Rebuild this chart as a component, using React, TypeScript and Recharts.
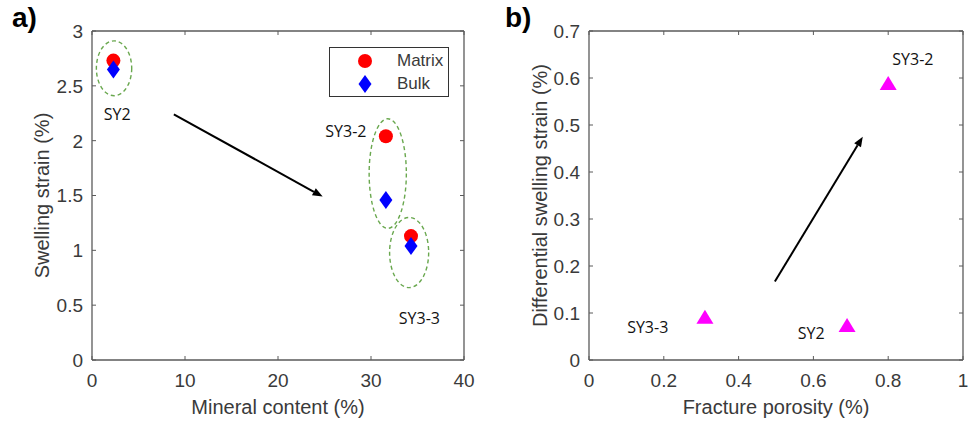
import React from 'react';
import { ScatterChart, Scatter, XAxis, YAxis, ReferenceLine, Legend } from 'recharts';

// ---- panel a) swelling strain vs mineral content ----
const SAMPLES_A = ['SY2', 'SY3-2', 'SY3-3'];
const MINERAL = [2.3, 31.6, 34.3];
const MATRIX = [2.73, 2.04, 1.13];
const BULK = [2.65, 1.46, 1.04];
const X_TICKS_A = [0, 10, 20, 30, 40];
const Y_TICKS_A = [0, 0.5, 1, 1.5, 2, 2.5, 3];
const LABEL_X_A = [2.7, 27.3, 35.2];
const LABEL_Y_A = [2.24, 2.08, 0.38];
const RING_X_A = [2.37, 31.8, 34.1];
const RING_Y_A = [2.66, 1.7, 0.98];
const RING_RX_A = [1.9, 2.0, 2.1];
const RING_RY_A = [0.25, 0.5, 0.32];
const ARROW_A = [{ x: 8.8, y: 2.24 }, { x: 24.8, y: 1.49 }];

// ---- panel b) differential swelling strain vs fracture porosity ----
const SAMPLES_B = ['SY2', 'SY3-2', 'SY3-3'];
const POROSITY = [0.69, 0.8, 0.31];
const DIFF = [0.07, 0.585, 0.088];
const X_TICKS_B = [0, 0.2, 0.4, 0.6, 0.8, 1];
const Y_TICKS_B = [0, 0.1, 0.2, 0.3, 0.4, 0.5, 0.6, 0.7];
const LABEL_X_B = [0.594, 0.866, 0.157];
const LABEL_Y_B = [0.057, 0.64, 0.07];
const ARROW_B = [{ x: 0.497, y: 0.167 }, { x: 0.732, y: 0.475 }];

const H = 423;
const AXIS_C = '#5a5a5a';
const TEXT_C = '#3a3a3a';
const TICK_FONT = '"Liberation Sans", Arial, sans-serif';
const NOTE_FONT = '"Open Sans", "Noto Sans", sans-serif';

const matrixData = MINERAL.map((x, i) => ({ x, y: MATRIX[i] }));
const bulkData = MINERAL.map((x, i) => ({ x, y: BULK[i] }));
const ringData = RING_X_A.map((x, i) => ({ x, y: RING_Y_A[i], rx: RING_RX_A[i], ry: RING_RY_A[i] }));
const labelsA = SAMPLES_A.map((name, i) => ({ x: LABEL_X_A[i], y: LABEL_Y_A[i], name }));
const triData = POROSITY.map((x, i) => ({ x, y: DIFF[i] }));
const labelsB = SAMPLES_B.map((name, i) => ({ x: LABEL_X_B[i], y: LABEL_Y_B[i], name }));

const makeXTick = (top: number) => (p: any) => (
  <g>
    <line x1={p.x} x2={p.x} y1={p.y} y2={p.y - 4} stroke={AXIS_C} />
    <line x1={p.x} x2={p.x} y1={top} y2={top + 4} stroke={AXIS_C} />
    <text x={p.x} y={p.y + 27} textAnchor="middle" fontSize={19} fontFamily={TICK_FONT} fill={TEXT_C}>
      {p.payload.value}
    </text>
  </g>
);

const makeYTick = (right: number) => (p: any) => (
  <g>
    <line x1={p.x} x2={p.x + 4} y1={p.y} y2={p.y} stroke={AXIS_C} />
    <line x1={right} x2={right - 4} y1={p.y} y2={p.y} stroke={AXIS_C} />
    <text x={p.x - 9} y={p.y} dy="0.36em" textAnchor="end" fontSize={19} fontFamily={TICK_FONT} fill={TEXT_C}>
      {p.payload.value}
    </text>
  </g>
);

const xTitle = (text: string) => (p: any) => {
  const vb = p.viewBox;
  return (
    <text x={vb.x + vb.width / 2} y={vb.y + vb.height - 9} textAnchor="middle" fontSize={20} fontFamily={TICK_FONT} fill={TEXT_C}>
      {text}
    </text>
  );
};

const yTitle = (text: string, dx: number) => (p: any) => {
  const vb = p.viewBox;
  const cx = vb.x + dx;
  const cy = vb.y + vb.height / 2;
  return (
    <text x={cx} y={cy} transform={`rotate(-90 ${cx} ${cy})`} textAnchor="middle" dominantBaseline="central" fontSize={20} fontFamily={TICK_FONT} fill={TEXT_C}>
      {text}
    </text>
  );
};

const arrowShape = (p: any) => {
  const { x1, y1, x2, y2 } = p;
  const a = Math.atan2(y2 - y1, x2 - x1);
  const L = 10;
  const W = 4;
  const bx = x2 - L * Math.cos(a);
  const by = y2 - L * Math.sin(a);
  const px = -Math.sin(a) * W;
  const py = Math.cos(a) * W;
  return (
    <g>
      <line x1={x1} y1={y1} x2={bx} y2={by} stroke="#000" strokeWidth={2} />
      <polygon points={`${x2},${y2} ${bx + px},${by + py} ${bx - px},${by - py}`} fill="#000" />
    </g>
  );
};

const noteShape = (p: any) => (
  <text x={p.cx} y={p.cy} dy="0.35em" textAnchor="middle" fontSize={16} fontFamily={NOTE_FONT} fill="#111">
    {p.payload.name}
  </text>
);

const circleShape = (p: any) => <circle cx={p.cx} cy={p.cy} r={7} fill="#ff0000" />;
const diamondShape = (p: any) => (
  <polygon points={`${p.cx},${p.cy - 9} ${p.cx + 6.5},${p.cy} ${p.cx},${p.cy + 9} ${p.cx - 6.5},${p.cy}`} fill="#0000ff" />
);
const triangleShape = (p: any) => (
  <polygon points={`${p.cx},${p.cy - 9} ${p.cx + 8.5},${p.cy + 5} ${p.cx - 8.5},${p.cy + 5}`} fill="#ff00ff" />
);

// panel a layout
const A_W = 480;
const A_M = { top: 31, right: 16, bottom: 0, left: 32 };
const A_PLOT_W = A_W - A_M.left - 60 - A_M.right;
const A_PLOT_H = H - A_M.top - 63;
const PX_X_A = A_PLOT_W / 40;
const PX_Y_A = A_PLOT_H / 3;

const ringShape = (p: any) => (
  <ellipse
    cx={p.cx}
    cy={p.cy}
    rx={p.payload.rx * PX_X_A}
    ry={p.payload.ry * PX_Y_A}
    fill="none"
    stroke="#6aa84f"
    strokeWidth={1.4}
    strokeDasharray="4 3"
  />
);

const LEGEND_NAMES = ['Matrix', 'Bulk'];
const legendContent = () => (
  <div style={{ width: 120, height: 50, border: '1px solid #333', background: '#fff', boxSizing: 'border-box', fontFamily: TICK_FONT, fontSize: 17, color: TEXT_C }}>
    {LEGEND_NAMES.map((n, i) => (
      <div key={n} style={{ position: 'relative', height: 23, marginTop: i === 0 ? 2 : 0 }}>
        <svg width={20} height={20} style={{ position: 'absolute', left: 25, top: 1 }}>
          {i === 0 ? <circle cx={10} cy={10} r={7} fill="#ff0000" /> : <polygon points="10,1 16.5,10 10,19 3.5,10" fill="#0000ff" />}
        </svg>
        <span style={{ position: 'absolute', left: 67, top: 1 }}>{n}</span>
      </div>
    ))}
  </div>
);

// panel b layout
const B_W = 482;
const B_M = { top: 31, right: 9, bottom: 0, left: 39 };

export default function App() {
  return (
    <div style={{ position: 'absolute', left: 0, top: 0, width: 972, height: H, background: '#fff' }}>
      <div style={{ position: 'absolute', left: 12, top: 2, fontSize: 28, fontWeight: 'bold', fontFamily: TICK_FONT, color: '#000' }}>a)</div>
      <div style={{ position: 'absolute', left: 505, top: 2, fontSize: 28, fontWeight: 'bold', fontFamily: TICK_FONT, color: '#000' }}>b)</div>

      <div style={{ position: 'absolute', left: 0, top: 0 }}>
        <ScatterChart width={A_W} height={H} margin={A_M}>
          <XAxis
            type="number"
            dataKey="x"
            domain={[0, 40]}
            ticks={X_TICKS_A}
            interval={0}
            height={63}
            tickSize={0}
            tickMargin={0}
            tickLine={false}
            stroke={AXIS_C}
            strokeWidth={1.3}
            tick={makeXTick(A_M.top)}
            label={{ content: xTitle('Mineral content (%)') }}
          />
          <YAxis
            type="number"
            dataKey="y"
            domain={[0, 3]}
            ticks={Y_TICKS_A}
            interval={0}
            width={60}
            tickSize={0}
            tickMargin={0}
            tickLine={false}
            stroke={AXIS_C}
            strokeWidth={1.3}
            tick={makeYTick(A_W - A_M.right)}
            label={{ content: yTitle('Swelling strain (%)', 10) }}
          />
          <ReferenceLine y={3} stroke={AXIS_C} strokeWidth={1.3} />
          <ReferenceLine x={40} stroke={AXIS_C} strokeWidth={1.3} />
          <ReferenceLine segment={ARROW_A} shape={arrowShape} />
          <Scatter data={ringData} shape={ringShape} isAnimationActive={false} legendType="none" />
          <Scatter data={labelsA} shape={noteShape} isAnimationActive={false} legendType="none" />
          <Scatter name="Matrix" data={matrixData} shape={circleShape} isAnimationActive={false} />
          <Scatter name="Bulk" data={bulkData} shape={diamondShape} isAnimationActive={false} />
          <Legend
            layout="horizontal"
            verticalAlign="middle"
            align="center"
            content={legendContent}
            wrapperStyle={{ left: 329, top: 47, width: 120, height: 50 }}
          />
        </ScatterChart>
      </div>

      <div style={{ position: 'absolute', left: 490, top: 0 }}>
        <ScatterChart width={B_W} height={H} margin={B_M}>
          <XAxis
            type="number"
            dataKey="x"
            domain={[0, 1]}
            ticks={X_TICKS_B}
            interval={0}
            height={63}
            tickSize={0}
            tickMargin={0}
            tickLine={false}
            stroke={AXIS_C}
            strokeWidth={1.3}
            tick={makeXTick(B_M.top)}
            label={{ content: xTitle('Fracture porosity (%)') }}
          />
          <YAxis
            type="number"
            dataKey="y"
            domain={[0, 0.7]}
            ticks={Y_TICKS_B}
            interval={0}
            width={60}
            tickSize={0}
            tickMargin={0}
            tickLine={false}
            stroke={AXIS_C}
            strokeWidth={1.3}
            tick={makeYTick(B_W - B_M.right)}
            label={{ content: yTitle('Differential swelling strain (%)', 11) }}
          />
          <ReferenceLine y={0.7} stroke={AXIS_C} strokeWidth={1.3} />
          <ReferenceLine x={1} stroke={AXIS_C} strokeWidth={1.3} />
          <ReferenceLine segment={ARROW_B} shape={arrowShape} />
          <Scatter data={labelsB} shape={noteShape} isAnimationActive={false} legendType="none" />
          <Scatter name="Differential" data={triData} shape={triangleShape} isAnimationActive={false} />
        </ScatterChart>
      </div>
    </div>
  );
}
